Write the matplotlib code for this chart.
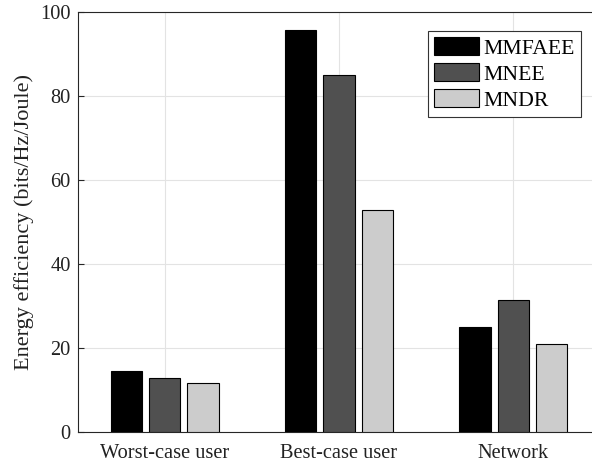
import numpy as np
import matplotlib
matplotlib.use('Agg')
import matplotlib.pyplot as plt

plt.rcParams['font.family'] = ['Liberation Serif', 'DejaVu Serif']
plt.rcParams['mathtext.fontset'] = 'stix'

categories = ['Worst-case user', 'Best-case user', 'Network']
schemes = ['MMFAEE', 'MNEE', 'MNDR']
mmfaee = [14.5, 95.8, 25.0]
mnee = [12.8, 85.0, 31.4]
mndr = [11.6, 52.8, 21.0]

colors = ['#000000', '#505050', '#cccccc']
series = [mmfaee, mnee, mndr]

fig = plt.figure(figsize=(5.92, 4.65), dpi=100)
# axes run past the right edge of the figure
ax = fig.add_axes([77.5 / 592, 1 - 431.7 / 465, (600.5 - 77.5) / 592, (431.7 - 12.3) / 465])

x = np.arange(1, len(categories) + 1)
offsets = [-0.22, 0.0, 0.22]
for vals, off, c, name in zip(series, offsets, colors, schemes):
    ax.bar(x + off, vals, width=0.18, color=c, edgecolor='black', linewidth=0.8, label=name, zorder=3)

ax.set_xlim(0.5, 3.5)
ax.set_ylim(0, 100)
ax.set_xticks(x)
ax.set_xticklabels(categories)
ax.set_yticks(np.arange(0, 101, 20))
ax.tick_params(direction='in', length=4, labelsize=14.7, colors='#262626', width=0.8, pad=5)
ax.tick_params(axis='x', pad=9)
for lab in ax.get_xticklabels() + ax.get_yticklabels():
    lab.set_color('#222222')
ax.grid(True, color='#e3e3e3', linewidth=0.8, zorder=0)
for s in ax.spines.values():
    s.set_color('#262626')
    s.set_linewidth(0.8)

ax.set_ylabel('Energy efficiency (bits/Hz/Joule)', fontsize=16, color='#222222', labelpad=4)

leg = ax.legend(loc='upper right', bbox_to_anchor=(581 / 592, 1 - 30.7 / 465), bbox_transform=fig.transFigure,
                fontsize=15.6, fancybox=False, framealpha=1, edgecolor='#333333',
                handlelength=2.07, handleheight=0.92, handletextpad=0.18, labelspacing=0.2,
                borderpad=0.3, borderaxespad=0)
leg.get_frame().set_linewidth(0.8)

fig.savefig('out.png', dpi=100)
